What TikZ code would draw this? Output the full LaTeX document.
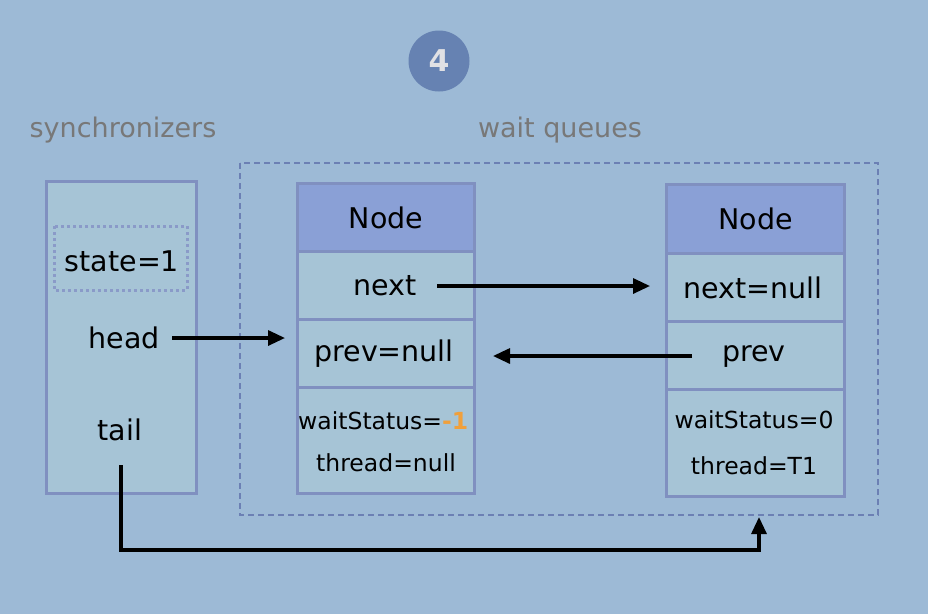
\documentclass[tikz,border=0pt]{standalone}
\usepackage{fontspec}
\setmainfont{DejaVu Sans}
\usetikzlibrary{arrows.meta}
\definecolor{bg}{RGB}{157,186,214}
\definecolor{cellfill}{RGB}{166,196,214}
\definecolor{cellline}{RGB}{128,144,192}
\definecolor{dotline}{RGB}{138,154,200}
\definecolor{headfill}{RGB}{138,160,214}
\definecolor{circfill}{RGB}{102,130,178}
\definecolor{dashline}{RGB}{108,128,180}
\definecolor{titlegray}{RGB}{120,120,120}
\definecolor{minusorange}{RGB}{240,160,60}
\tikzset{
  cell/.style={draw=cellline, fill=cellfill, line width=3pt, anchor=north west, inner sep=0pt, minimum width=#1},
  cell/.default=177pt,
  hdr/.style={cell, fill=headfill},
  big/.style={font=\fontsize{28.5}{34}\selectfont, inner sep=0pt},
  small/.style={font=\fontsize{23.5}{28}\selectfont, inner sep=0pt},
  title/.style={font=\fontsize{27}{32}\selectfont, text=titlegray, inner sep=0pt},
  ptr/.style={line width=3.2pt, -{Triangle[length=17pt,width=15pt]}},
}
\begin{document}
\begin{tikzpicture}[x=1pt,y=-1pt]
\fill[bg] (0,0) rectangle (928,614);
\useasboundingbox (0,0) rectangle (928,614);

% step badge
\node[circle, fill=circfill, minimum size=61pt, inner sep=0pt] (badge) at (439,61) {};
\node[font=\fontsize{30}{34}\selectfont\bfseries, text={rgb,255:red,225;green,225;blue,228}] (badgenum) at (439,61) {4};

% titles
\node[title] (synct) at (123,130) {synchronizers};
\node[title] (waitt) at (560,130) {wait queues};

% wait queue container
\draw[dashline, line width=2.2pt, dash pattern=on 6pt off 4pt] (240,163) rectangle (878,515);
\coordinate (qbottom) at (759,517);

% synchronizer box
\node[cell=150pt, minimum height=312pt] (sync) at (45,180) {};
\draw[dotline, line width=3pt, dash pattern=on 3pt off 3pt] (54,226) rectangle (187,290);
\node[big] (state) at (122,261) {state=1};
\node[big] (head) at (124,338) {head};
\node[big] (tail) at (120,430) {tail};
\coordinate (tailstart) at (121,465);

% Node 1
\node[hdr, minimum height=68pt] (n1h) at (296,182) {};
\node[big] at (n1h.center) {Node};
\node[cell, minimum height=68pt] (n1next) at (296,250) {};
\node[big] (n1nextt) at (385,286) {next};
\node[cell, minimum height=68pt] (n1prev) at (296,318) {};
\node[big] (n1prevt) at (384,354) {prev=null};
\node[cell, minimum height=106pt] (n1st) at (296,386) {};
\node[small, anchor=west] (n1ws) at (298,421) {waitStatus=\textcolor{minusorange}{\bfseries -1}};
\node[small] (n1th) at (386,463) {thread=null};

% Node 2
\node[hdr, minimum height=69pt, minimum width=178pt] (n2h) at (665,183) {};
\node[big] at (n2h.center) {Node};
\node[cell=178pt, minimum height=68pt] (n2next) at (665,252) {};
\node[big] (n2nextt) at (753,288) {next=null};
\node[cell=178pt, minimum height=68pt] (n2prev) at (665,320) {};
\node[big] (n2prevt) at (754,356) {prev};
\node[cell=178pt, minimum height=107pt] (n2st) at (665,388) {};
\node[small] (n2ws) at (754,420) {waitStatus=0};
\node[small] (n2th) at (754,466) {thread=T1};

% pointers
\draw[ptr] ([xshift=141pt]n1next.west |- n1nextt.center) -- ([xshift=-15pt]n2next.west |- n1nextt.center);
\draw[ptr] ([xshift=127pt]sync.west |- head.center) -- ([xshift=-11pt]n1prev.west |- head.center);
\draw[ptr] ([xshift=27pt]n2prev.west |- n2prevt.center) -- ([xshift=17pt]n1prev.east |- n2prevt.center);
\draw[ptr] (tailstart) -- (121,550) -| (qbottom);
\end{tikzpicture}
\end{document}
